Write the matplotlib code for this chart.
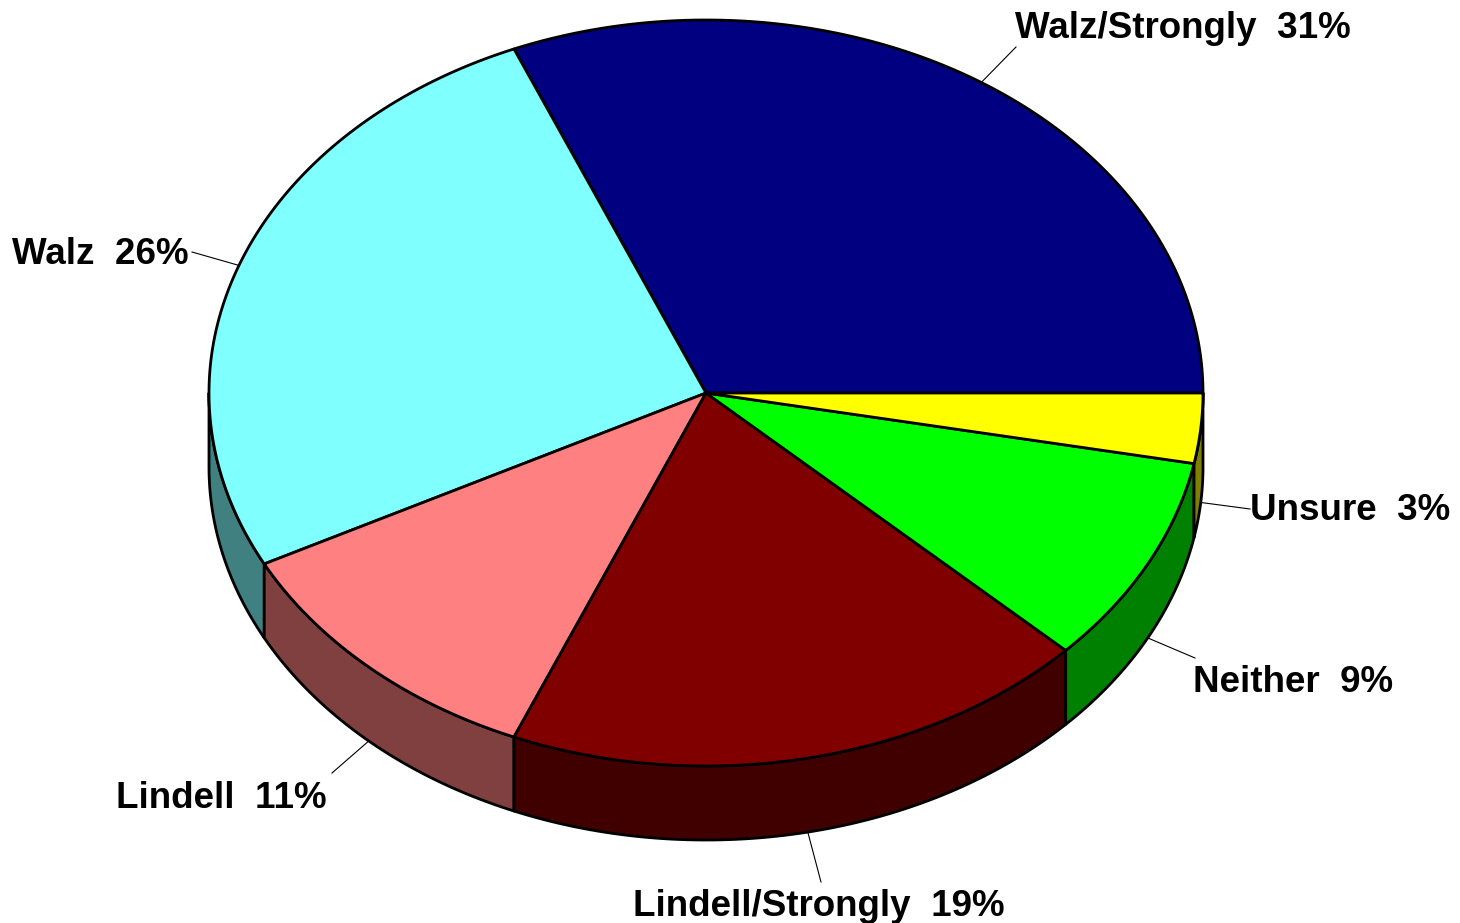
import numpy as np
import matplotlib
matplotlib.use("Agg")
import matplotlib.pyplot as plt
from matplotlib.patches import Polygon

# Survey shares (percent), counter-clockwise from 3 o'clock
labels = ["Walz/Strongly", "Walz", "Lindell", "Lindell/Strongly", "Neither", "Unsure"]
values = [31, 26, 11, 19, 9, 3]
top_colors = ["#000080", "#80FFFF", "#FF8080", "#800000", "#00FF00", "#FFFF00"]
side_colors = ["#000040", "#408080", "#804040", "#400000", "#008000", "#808000"]

# Label anchor (left x, centre y) in pixel space
label_pos = [(1015, 28), (12, 255), (116, 798), (633, 906), (1193, 682), (1250, 511)]
label_ends = [(1016, 47), (192, 252), (332, 773), (821, 882), (1195, 658), (1250, 509)]

W, H = 1460, 923
fig = plt.figure(figsize=(W / 100, H / 100), dpi=100)
ax = fig.add_axes([0, 0, 1, 1])
ax.set_xlim(0, W)
ax.set_ylim(H, 0)
ax.axis("off")

cx, cy = 706, 393
rx, ry = 497, 373
depth = 74


def pt(t, drop=0.0):
    r = np.radians(t)
    return cx + rx * np.cos(r), cy - ry * np.sin(r) + drop


total = sum(values)
bounds = np.concatenate([[0], np.cumsum(values) / total * 360])

# side walls (front half of the cylinder only)
for i in range(len(values)):
    a, b = max(bounds[i], 180), min(bounds[i + 1], 360)
    if b <= a:
        continue
    ts = np.linspace(a, b, 200)
    upper = [pt(t) for t in ts]
    lower = [pt(t, depth) for t in ts[::-1]]
    ax.add_patch(Polygon(upper + lower, closed=True, facecolor=side_colors[i],
                         edgecolor="black", linewidth=2, joinstyle="round", zorder=1))

# top faces
for i in range(len(values)):
    ts = np.linspace(bounds[i], bounds[i + 1], 300)
    verts = [(cx, cy)] + [pt(t) for t in ts]
    ax.add_patch(Polygon(verts, closed=True, facecolor=top_colors[i],
                         edgecolor="black", linewidth=2, joinstyle="round", zorder=2))

# labels with leader lines from each slice's mid-angle on the rim
for i, lab in enumerate(labels):
    mid = (bounds[i] + bounds[i + 1]) / 2
    drop = depth if 180 < mid < 360 else 0
    sx, sy = pt(mid, drop)
    ex, ey = label_ends[i]
    ax.plot([sx, ex], [sy, ey], color="black", linewidth=0.8, zorder=3)
    x, y = label_pos[i]
    ax.text(x, y, f"{lab}  {values[i]}%", ha="left", va="center",
            fontsize=26.5, fontweight="bold", family="Liberation Sans", zorder=4)

fig.savefig("out.png", dpi=100, facecolor="white")
